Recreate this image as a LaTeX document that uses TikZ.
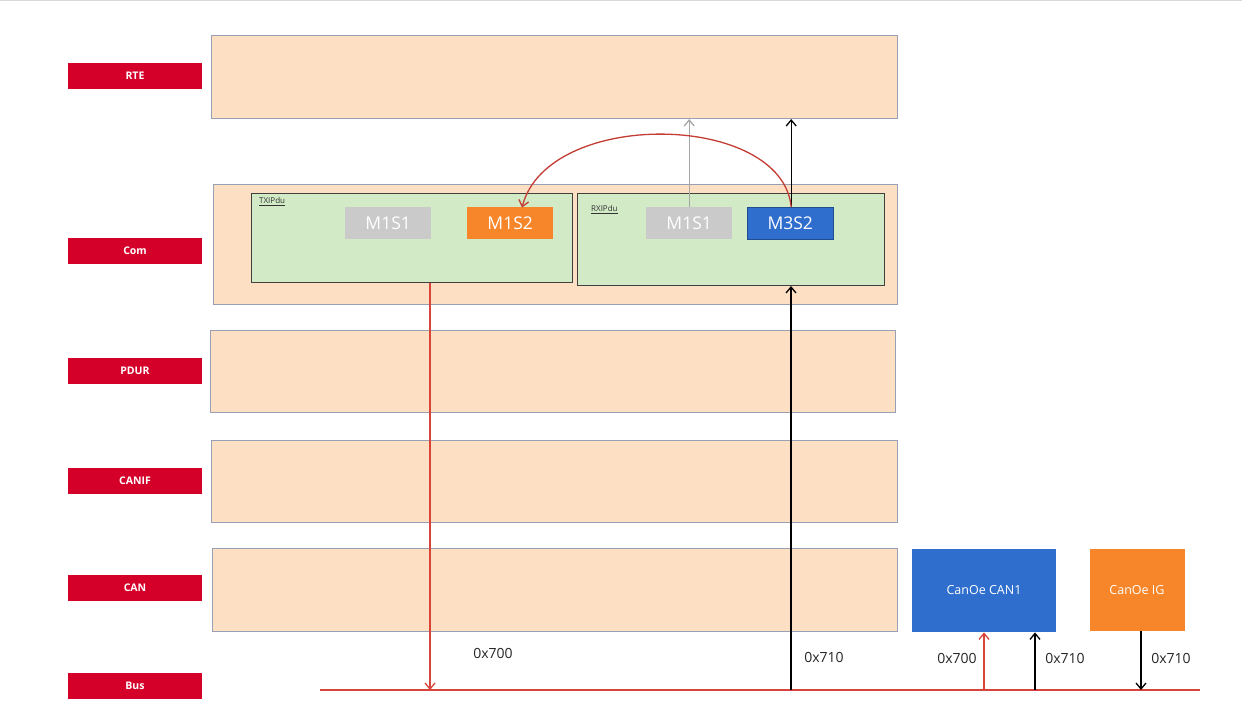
\documentclass[tikz,border=0pt]{standalone}
\usepackage{fontspec}
\setmainfont{Open Sans}
\usetikzlibrary{arrows.meta}
\definecolor{peach}{HTML}{FDDFC3}
\definecolor{layerborder}{HTML}{9AA0B4}
\definecolor{pdugreen}{HTML}{D3EAC6}
\definecolor{labred}{HTML}{D4002A}
\definecolor{sigray}{HTML}{CACACA}
\definecolor{sigorange}{HTML}{F7862A}
\definecolor{sigblue}{HTML}{2F6ECC}
\definecolor{busred}{HTML}{D9443A}
\tikzset{
  layer/.style={draw=layerborder, fill=peach, line width=1pt, anchor=north west, inner sep=0pt},
  labbox/.style={fill=labred, text=white, font=\bfseries\fontsize{10.5}{12}\selectfont, minimum width=134pt, minimum height=26pt, inner sep=0pt},
  pdubox/.style={draw=black!75, fill=pdugreen, line width=1pt, anchor=north west, inner sep=0pt},
  sig/.style={text=white, font=\fontsize{17.5}{20}\selectfont, minimum width=86pt, minimum height=32pt, inner sep=0pt, anchor=north west},
  hexlab/.style={font=\fontsize{14}{16}\selectfont, text=black!85, inner sep=0pt},
  tooltext/.style={text=white, font=\fontsize{12.5}{15}\selectfont, inner sep=0pt},
  tool/.style={inner sep=0pt, anchor=north west},
  arr/.style={-{Straight Barb[length=6pt,width=10pt]}, line width=1.3pt},
}
\begin{document}
\begin{tikzpicture}[x=1pt,y=-1pt]
\useasboundingbox (0,0) rectangle (1242,707);
\fill[white] (0,0) rectangle (1242,707);
\draw[black!15] (0,0.5) -- (1242,0.5);
% layer labels
\node[labbox] (lrte) at (135,76) {RTE};
\node[labbox] (lcom) at (135,251) {Com};
\node[labbox] (lpdur) at (135,371) {PDUR};
\node[labbox] (lcanif) at (135,481) {CANIF};
\node[labbox] (lcan) at (135,588) {CAN};
\node[labbox] (lbus) at (135,686) {Bus};
% layers
\node[layer, minimum width=686pt, minimum height=83pt] (rte) at (211,35) {};
\node[layer, minimum width=684pt, minimum height=120pt] (com) at (213,184) {};
\node[layer, minimum width=685pt, minimum height=82pt] (pdur) at (210,330) {};
\node[layer, minimum width=686pt, minimum height=82pt] (canif) at (211,440) {};
\node[layer, minimum width=685pt, minimum height=83pt] (can) at (212,548) {};
% PDUs
\node[pdubox, minimum width=321pt, minimum height=89pt] (tx) at (251,193) {};
\node[pdubox, minimum width=307pt, minimum height=92pt] (rx) at (577,193) {};
\node[anchor=north west, inner sep=0pt, font=\fontsize{8}{9}\selectfont, text=black!80] (txl) at (259,197) {\underline{TXIPdu}};
\node[anchor=north west, inner sep=0pt, font=\fontsize{8}{9}\selectfont, text=black!80] (rxl) at (591,205) {\underline{RXIPdu}};
% signals
\node[sig, fill=sigray] (tm1) at (345,207) {M1S1};
\node[sig, fill=sigorange] (tm2) at (467,207) {M1S2};
\node[sig, fill=sigray] (rm1) at (646,207) {M1S1};
\node[sig, fill=sigblue, draw=sigblue!70!black] (rm3) at (747,207) {M3S2};
% CANoe tools
\node[tool, fill=sigblue, minimum width=144pt, minimum height=83pt] (can1) at (912,549) {};
\node[tooltext] (can1t) at (984,590) {CanOe CAN1};
\node[tool, fill=sigorange, minimum width=95pt, minimum height=82pt] (ig) at (1090,549) {};
\node[tooltext] (igt) at (1137,590) {CanOe IG};
% bus
\coordinate (busL) at (320,690);
\coordinate (busR) at (1200,690);
\draw[busred, line width=1.3pt] (busL) -- (busR);
\coordinate (b1) at (430,690);
\coordinate (b2) at (791,690);
\coordinate (b3) at (984,690);
\coordinate (b4) at (1035,690);
\coordinate (b5) at (1141,690);
\coordinate (arcend) at (522,207.5);
% connectors
\draw[arr, busred] (tx.south -| b1) -- (b1);
\draw[arr, black] (b2) -- (rx.south -| b2);
\draw[arr, busred] (b3) -- (can1.south -| b3);
\draw[arr, black] (b4) -- (can1.south -| b4);
\draw[arr, black] (ig.south -| b5) -- (b5);
\draw[arr, black!35] (rm1.north) -- (rm1.north |- rte.south);
\draw[arr, black] ([xshift=1pt]rm3.north) -- ([xshift=1pt]rm3.north |- rte.south);
\draw[arr, busred!90!black] ([xshift=1pt]rm3.north) .. controls (782,112) and (548,108) .. (arcend);
% hex labels
\node[hexlab] (h1) at (493,653) {0x700};
\node[hexlab] (h2) at (824,657) {0x710};
\node[hexlab] (h3) at (957,658) {0x700};
\node[hexlab] (h4) at (1065,658) {0x710};
\node[hexlab] (h5) at (1171,658) {0x710};
\end{tikzpicture}
\end{document}
